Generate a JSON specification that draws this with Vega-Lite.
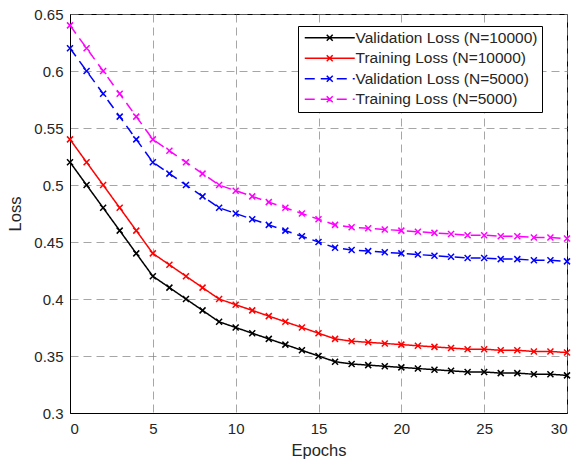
{
  "$schema": "https://vega.github.io/schema/vega-lite/v6.json",
  "autosize": {"type": "none"},
  "width": 497,
  "height": 399,
  "padding": {"left": 70, "top": 14, "right": 7, "bottom": 46},
  "background": "white",
  "config": {
    "font": "Liberation Sans",
    "view": {"stroke": "black", "strokeWidth": 1},
    "axis": {
      "domainColor": "black",
      "grid": true,
      "gridColor": "#808080",
      "gridOpacity": 0.7,
      "gridDash": [8, 5],
      "gridWidth": 1,
      "tickSize": 0,
      "labelFontSize": 15,
      "labelColor": "#262626",
      "titleFontSize": 16.5,
      "titleFontWeight": "normal",
      "titleColor": "#262626"
    },
    "legend": {
      "title": null,
      "orient": "none",
      "legendX": 228,
      "legendY": 12,
      "fillColor": "white",
      "strokeColor": "black",
      "padding": 4,
      "rowPadding": 3.5,
      "symbolType": "M-5,0L5,0M-0.6,-0.6L0.6,0.6M-0.6,0.6L0.6,-0.6",
      "symbolSize": 100,
      "symbolOffset": 20,
      "symbolStrokeWidth": 1.5,
      "labelFontSize": 15.5,
      "labelColor": "#262626",
      "labelOffset": 18,
      "labelLimit": 320
    }
  },
  "data": {
    "values": [
      {"epoch": 0, "series": "Validation Loss (N=10000)", "loss": 0.52},
      {"epoch": 1, "series": "Validation Loss (N=10000)", "loss": 0.50},
      {"epoch": 2, "series": "Validation Loss (N=10000)", "loss": 0.48},
      {"epoch": 3, "series": "Validation Loss (N=10000)", "loss": 0.46},
      {"epoch": 4, "series": "Validation Loss (N=10000)", "loss": 0.44},
      {"epoch": 5, "series": "Validation Loss (N=10000)", "loss": 0.42},
      {"epoch": 6, "series": "Validation Loss (N=10000)", "loss": 0.41},
      {"epoch": 7, "series": "Validation Loss (N=10000)", "loss": 0.40},
      {"epoch": 8, "series": "Validation Loss (N=10000)", "loss": 0.39},
      {"epoch": 9, "series": "Validation Loss (N=10000)", "loss": 0.38},
      {"epoch": 10, "series": "Validation Loss (N=10000)", "loss": 0.375},
      {"epoch": 11, "series": "Validation Loss (N=10000)", "loss": 0.37},
      {"epoch": 12, "series": "Validation Loss (N=10000)", "loss": 0.365},
      {"epoch": 13, "series": "Validation Loss (N=10000)", "loss": 0.36},
      {"epoch": 14, "series": "Validation Loss (N=10000)", "loss": 0.355},
      {"epoch": 15, "series": "Validation Loss (N=10000)", "loss": 0.35},
      {"epoch": 16, "series": "Validation Loss (N=10000)", "loss": 0.345},
      {"epoch": 17, "series": "Validation Loss (N=10000)", "loss": 0.343},
      {"epoch": 18, "series": "Validation Loss (N=10000)", "loss": 0.342},
      {"epoch": 19, "series": "Validation Loss (N=10000)", "loss": 0.341},
      {"epoch": 20, "series": "Validation Loss (N=10000)", "loss": 0.340},
      {"epoch": 21, "series": "Validation Loss (N=10000)", "loss": 0.339},
      {"epoch": 22, "series": "Validation Loss (N=10000)", "loss": 0.338},
      {"epoch": 23, "series": "Validation Loss (N=10000)", "loss": 0.337},
      {"epoch": 24, "series": "Validation Loss (N=10000)", "loss": 0.336},
      {"epoch": 25, "series": "Validation Loss (N=10000)", "loss": 0.336},
      {"epoch": 26, "series": "Validation Loss (N=10000)", "loss": 0.335},
      {"epoch": 27, "series": "Validation Loss (N=10000)", "loss": 0.335},
      {"epoch": 28, "series": "Validation Loss (N=10000)", "loss": 0.334},
      {"epoch": 29, "series": "Validation Loss (N=10000)", "loss": 0.334},
      {"epoch": 30, "series": "Validation Loss (N=10000)", "loss": 0.333},
      {"epoch": 0, "series": "Training Loss (N=10000)", "loss": 0.54},
      {"epoch": 1, "series": "Training Loss (N=10000)", "loss": 0.52},
      {"epoch": 2, "series": "Training Loss (N=10000)", "loss": 0.50},
      {"epoch": 3, "series": "Training Loss (N=10000)", "loss": 0.48},
      {"epoch": 4, "series": "Training Loss (N=10000)", "loss": 0.46},
      {"epoch": 5, "series": "Training Loss (N=10000)", "loss": 0.44},
      {"epoch": 6, "series": "Training Loss (N=10000)", "loss": 0.43},
      {"epoch": 7, "series": "Training Loss (N=10000)", "loss": 0.42},
      {"epoch": 8, "series": "Training Loss (N=10000)", "loss": 0.41},
      {"epoch": 9, "series": "Training Loss (N=10000)", "loss": 0.40},
      {"epoch": 10, "series": "Training Loss (N=10000)", "loss": 0.395},
      {"epoch": 11, "series": "Training Loss (N=10000)", "loss": 0.39},
      {"epoch": 12, "series": "Training Loss (N=10000)", "loss": 0.385},
      {"epoch": 13, "series": "Training Loss (N=10000)", "loss": 0.38},
      {"epoch": 14, "series": "Training Loss (N=10000)", "loss": 0.375},
      {"epoch": 15, "series": "Training Loss (N=10000)", "loss": 0.37},
      {"epoch": 16, "series": "Training Loss (N=10000)", "loss": 0.365},
      {"epoch": 17, "series": "Training Loss (N=10000)", "loss": 0.363},
      {"epoch": 18, "series": "Training Loss (N=10000)", "loss": 0.362},
      {"epoch": 19, "series": "Training Loss (N=10000)", "loss": 0.361},
      {"epoch": 20, "series": "Training Loss (N=10000)", "loss": 0.360},
      {"epoch": 21, "series": "Training Loss (N=10000)", "loss": 0.359},
      {"epoch": 22, "series": "Training Loss (N=10000)", "loss": 0.358},
      {"epoch": 23, "series": "Training Loss (N=10000)", "loss": 0.357},
      {"epoch": 24, "series": "Training Loss (N=10000)", "loss": 0.356},
      {"epoch": 25, "series": "Training Loss (N=10000)", "loss": 0.356},
      {"epoch": 26, "series": "Training Loss (N=10000)", "loss": 0.355},
      {"epoch": 27, "series": "Training Loss (N=10000)", "loss": 0.355},
      {"epoch": 28, "series": "Training Loss (N=10000)", "loss": 0.354},
      {"epoch": 29, "series": "Training Loss (N=10000)", "loss": 0.354},
      {"epoch": 30, "series": "Training Loss (N=10000)", "loss": 0.353},
      {"epoch": 0, "series": "Validation Loss (N=5000)", "loss": 0.62},
      {"epoch": 1, "series": "Validation Loss (N=5000)", "loss": 0.60},
      {"epoch": 2, "series": "Validation Loss (N=5000)", "loss": 0.58},
      {"epoch": 3, "series": "Validation Loss (N=5000)", "loss": 0.56},
      {"epoch": 4, "series": "Validation Loss (N=5000)", "loss": 0.54},
      {"epoch": 5, "series": "Validation Loss (N=5000)", "loss": 0.52},
      {"epoch": 6, "series": "Validation Loss (N=5000)", "loss": 0.51},
      {"epoch": 7, "series": "Validation Loss (N=5000)", "loss": 0.50},
      {"epoch": 8, "series": "Validation Loss (N=5000)", "loss": 0.49},
      {"epoch": 9, "series": "Validation Loss (N=5000)", "loss": 0.48},
      {"epoch": 10, "series": "Validation Loss (N=5000)", "loss": 0.475},
      {"epoch": 11, "series": "Validation Loss (N=5000)", "loss": 0.47},
      {"epoch": 12, "series": "Validation Loss (N=5000)", "loss": 0.465},
      {"epoch": 13, "series": "Validation Loss (N=5000)", "loss": 0.46},
      {"epoch": 14, "series": "Validation Loss (N=5000)", "loss": 0.455},
      {"epoch": 15, "series": "Validation Loss (N=5000)", "loss": 0.45},
      {"epoch": 16, "series": "Validation Loss (N=5000)", "loss": 0.445},
      {"epoch": 17, "series": "Validation Loss (N=5000)", "loss": 0.443},
      {"epoch": 18, "series": "Validation Loss (N=5000)", "loss": 0.442},
      {"epoch": 19, "series": "Validation Loss (N=5000)", "loss": 0.441},
      {"epoch": 20, "series": "Validation Loss (N=5000)", "loss": 0.440},
      {"epoch": 21, "series": "Validation Loss (N=5000)", "loss": 0.439},
      {"epoch": 22, "series": "Validation Loss (N=5000)", "loss": 0.438},
      {"epoch": 23, "series": "Validation Loss (N=5000)", "loss": 0.437},
      {"epoch": 24, "series": "Validation Loss (N=5000)", "loss": 0.436},
      {"epoch": 25, "series": "Validation Loss (N=5000)", "loss": 0.436},
      {"epoch": 26, "series": "Validation Loss (N=5000)", "loss": 0.435},
      {"epoch": 27, "series": "Validation Loss (N=5000)", "loss": 0.435},
      {"epoch": 28, "series": "Validation Loss (N=5000)", "loss": 0.434},
      {"epoch": 29, "series": "Validation Loss (N=5000)", "loss": 0.434},
      {"epoch": 30, "series": "Validation Loss (N=5000)", "loss": 0.433},
      {"epoch": 0, "series": "Training Loss (N=5000)", "loss": 0.64},
      {"epoch": 1, "series": "Training Loss (N=5000)", "loss": 0.62},
      {"epoch": 2, "series": "Training Loss (N=5000)", "loss": 0.60},
      {"epoch": 3, "series": "Training Loss (N=5000)", "loss": 0.58},
      {"epoch": 4, "series": "Training Loss (N=5000)", "loss": 0.56},
      {"epoch": 5, "series": "Training Loss (N=5000)", "loss": 0.54},
      {"epoch": 6, "series": "Training Loss (N=5000)", "loss": 0.53},
      {"epoch": 7, "series": "Training Loss (N=5000)", "loss": 0.52},
      {"epoch": 8, "series": "Training Loss (N=5000)", "loss": 0.51},
      {"epoch": 9, "series": "Training Loss (N=5000)", "loss": 0.50},
      {"epoch": 10, "series": "Training Loss (N=5000)", "loss": 0.495},
      {"epoch": 11, "series": "Training Loss (N=5000)", "loss": 0.49},
      {"epoch": 12, "series": "Training Loss (N=5000)", "loss": 0.485},
      {"epoch": 13, "series": "Training Loss (N=5000)", "loss": 0.48},
      {"epoch": 14, "series": "Training Loss (N=5000)", "loss": 0.475},
      {"epoch": 15, "series": "Training Loss (N=5000)", "loss": 0.47},
      {"epoch": 16, "series": "Training Loss (N=5000)", "loss": 0.465},
      {"epoch": 17, "series": "Training Loss (N=5000)", "loss": 0.463},
      {"epoch": 18, "series": "Training Loss (N=5000)", "loss": 0.462},
      {"epoch": 19, "series": "Training Loss (N=5000)", "loss": 0.461},
      {"epoch": 20, "series": "Training Loss (N=5000)", "loss": 0.460},
      {"epoch": 21, "series": "Training Loss (N=5000)", "loss": 0.459},
      {"epoch": 22, "series": "Training Loss (N=5000)", "loss": 0.458},
      {"epoch": 23, "series": "Training Loss (N=5000)", "loss": 0.457},
      {"epoch": 24, "series": "Training Loss (N=5000)", "loss": 0.456},
      {"epoch": 25, "series": "Training Loss (N=5000)", "loss": 0.456},
      {"epoch": 26, "series": "Training Loss (N=5000)", "loss": 0.455},
      {"epoch": 27, "series": "Training Loss (N=5000)", "loss": 0.455},
      {"epoch": 28, "series": "Training Loss (N=5000)", "loss": 0.454},
      {"epoch": 29, "series": "Training Loss (N=5000)", "loss": 0.454},
      {"epoch": 30, "series": "Training Loss (N=5000)", "loss": 0.453}
    ]
  },
  "encoding": {
    "x": {
      "field": "epoch", "type": "quantitative",
      "scale": {"domain": [0, 30], "nice": false, "zero": false},
      "axis": {"title": "Epochs", "values": [0, 5, 10, 15, 20, 25, 30], "labelPadding": 8, "titlePadding": 6}
    },
    "y": {
      "field": "loss", "type": "quantitative",
      "scale": {"domain": [0.3, 0.65], "nice": false, "zero": false},
      "axis": {"title": "Loss", "values": [0.3, 0.35, 0.4, 0.45, 0.5, 0.55, 0.6, 0.65], "format": "~g", "labelPadding": 7, "titlePadding": 10}
    },
    "color": {
      "field": "series", "type": "nominal",
      "scale": {
        "domain": ["Validation Loss (N=10000)", "Training Loss (N=10000)", "Validation Loss (N=5000)", "Training Loss (N=5000)"],
        "range": ["#000000", "#FF0000", "#0000FF", "#FF00FF"]
      },
      "legend": {"title": null, "labelExpr": "datum.label + '\u2003\u2003\u2003'"}
    }
  },
  "layer": [
    {
      "mark": {"type": "line", "strokeWidth": 1.5},
      "encoding": {
        "strokeDash": {
          "field": "series", "type": "nominal",
          "scale": {
            "domain": ["Validation Loss (N=10000)", "Training Loss (N=10000)", "Validation Loss (N=5000)", "Training Loss (N=5000)"],
            "range": [[1, 0], [1, 0], [10, 6], [10, 6]]
          },
          "legend": {"title": null, "labelExpr": "datum.label + '\u2003\u2003\u2003'"}
        }
      }
    },
    {
      "mark": {"type": "point", "shape": "M-1,-1L1,1M-1,1L1,-1", "filled": false, "size": 36, "strokeWidth": 1.5, "opacity": 1}
    }
  ]
}
